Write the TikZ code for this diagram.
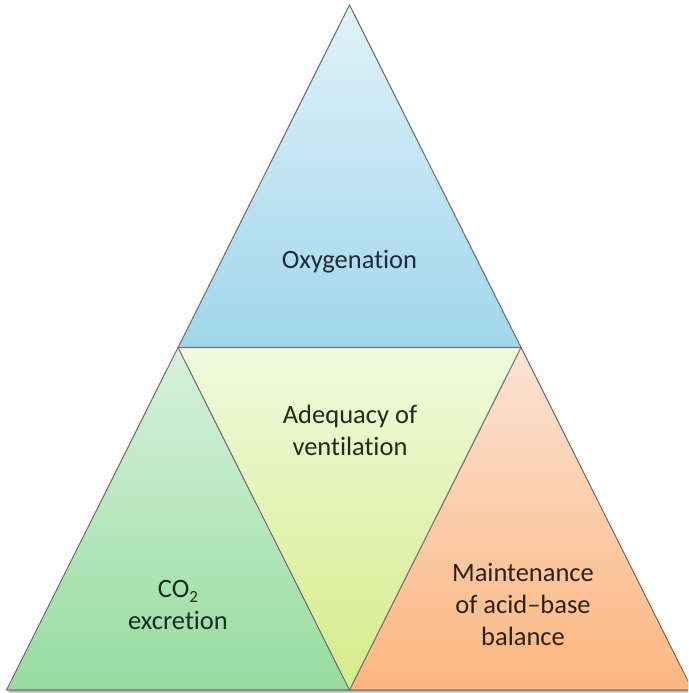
\documentclass[tikz,border=0pt]{standalone}
\usepackage{fontspec}
\setmainfont{Carlito}[Ligatures={NoCommon}]
\begin{document}
\begin{tikzpicture}[x=1pt,y=-1pt,
  facet/.style={draw=black!55,line width=1.1pt,line join=miter},
  label/.style={align=center,font=\fontsize{26.5}{32}\selectfont,inner sep=0pt,anchor=base}]
\useasboundingbox (0,0) rectangle (688,693);
\clip (0,0) rectangle (688,693);
% corners and edge midpoints of the big triangle
\coordinate (A)  at (349.5,5);
\coordinate (L)  at (6.5,690);
\coordinate (R)  at (692.5,690);
\coordinate (ML) at (178,347.5);
\coordinate (MR) at (521,347.5);
\coordinate (MB) at (349.5,690);
% soft drop shadow
\fill[black,opacity=0.28] ([shift={(1.5,2.5)}]A) -- ([shift={(1.5,2.5)}]L) -- ([shift={(1.5,2.5)}]R) -- cycle;
% the four facets
\shade[top color={rgb,255:red,225;green,242;blue,249},bottom color={rgb,255:red,160;green,214;blue,236}] (A) -- (ML) -- (MR) -- cycle;
\shade[top color={rgb,255:red,242;green,249;blue,222},bottom color={rgb,255:red,214;green,236;blue,136}] (ML) -- (MR) -- (MB) -- cycle;
\shade[top color={rgb,255:red,216;green,242;blue,222},bottom color={rgb,255:red,150;green,220;blue,158}] (ML) -- (L) -- (MB) -- cycle;
\shade[top color={rgb,255:red,251;green,227;blue,214},bottom color={rgb,255:red,252;green,182;blue,126}] (MR) -- (MB) -- (R) -- cycle;
\draw[facet] (A) -- (ML) -- (MR) -- cycle;
\draw[facet] (ML) -- (L) -- (MB) -- cycle;
\draw[facet] (MR) -- (MB) -- (R) -- cycle;
% labels (anchored at the baseline of the last line)
\node[label,text={rgb,255:red,30;green,44;blue,58}] (oxy) at (349.5,268) {Oxygenation};
\node[label,text={rgb,255:red,38;green,40;blue,28}] (vent) at (350,455) {Adequacy of\\ventilation};
\node[label,text={rgb,255:red,28;green,44;blue,32}] (co2) at (178,629) {CO\raisebox{-0.22em}{\fontsize{17}{17}\selectfont 2}\\excretion};
\node[label,text={rgb,255:red,44;green,34;blue,26}] (acid) at (523,645) {Maintenance\\of acid--base\\balance};
\end{tikzpicture}
\end{document}
